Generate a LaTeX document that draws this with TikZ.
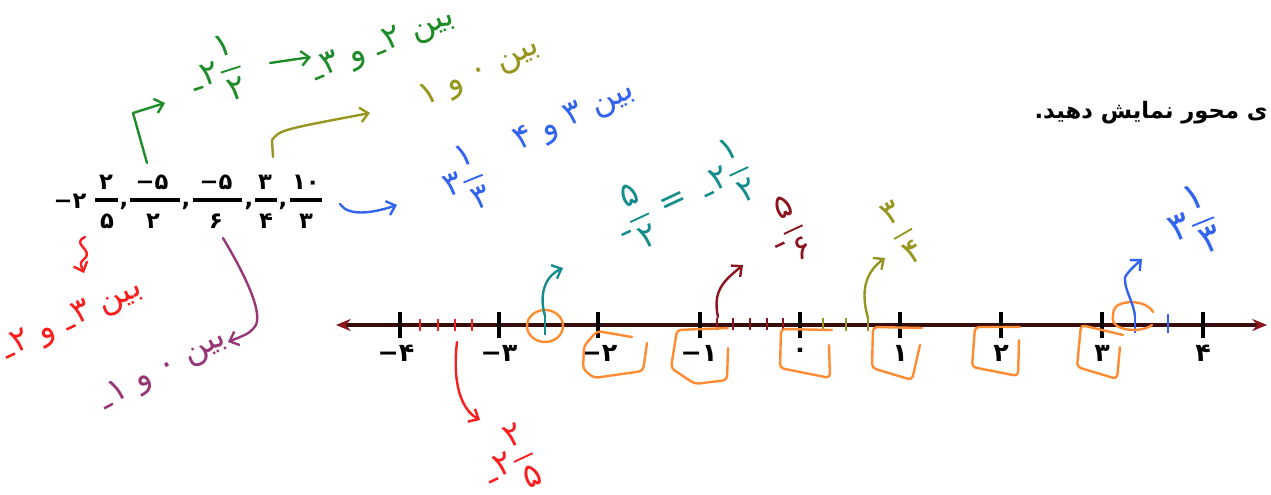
\documentclass[tikz,border=0pt]{standalone}
\usepackage{fontspec}
\usepackage{amsmath}
\usetikzlibrary{arrows.meta}
\TeXXeTstate=1
\newfontfamily\fa[Script=Arabic]{DejaVu Sans}
\definecolor{hgreen}{RGB}{30,140,40}
\definecolor{holive}{RGB}{150,150,30}
\definecolor{hblue}{RGB}{50,100,240}
\definecolor{hteal}{RGB}{20,140,140}
\definecolor{hmaroon}{RGB}{140,20,30}
\definecolor{hred}{RGB}{250,30,30}
\definecolor{hpurple}{RGB}{150,55,120}
\definecolor{horange}{RGB}{255,140,50}
\definecolor{axisc}{RGB}{55,12,12}
\newcommand\hneg{\rule[-0.03em]{0.3em}{0.075em}\kern0.05em}
\newcommand\hnum[1]{\hbox{\beginL\hneg{}#1\endL}}
\newcommand\pneg{−\kern0pt}
\newcommand\hfr[2]{\ensuremath{\genfrac{}{}{1.4pt}{0}{\hbox{\kern1pt#1\kern1pt}}{\hbox{\kern1pt#2\kern1pt}}}}
\begin{document}
\begin{tikzpicture}[x=0.75pt,y=-0.75pt,
  pr/.style={font=\fa\bfseries\fontsize{17}{20}\selectfont, inner sep=0pt},
  plab/.style={font=\fa\bfseries\fontsize{19}{22}\selectfont, inner sep=0pt},
  hw/.style={font=\fa\fontsize{25}{28}\selectfont, inner sep=0pt},
  hwbig/.style={font=\fa\fontsize{29}{32}\selectfont, inner sep=0pt},
  hstroke/.style={line width=1.8pt, line cap=round, line join=round},
  harrow/.style={hstroke, -{Straight Barb[length=6pt,width=11pt]}},
  fbar/.style={line width=2.8pt},
  ntick/.style={line width=2.6pt},
  hmark/.style={line width=1.5pt},
  obox/.style={horange, line width=1.8pt, line cap=round, line join=round, rounded corners=3pt}]
\useasboundingbox (0,0) rectangle (1271,495);

% printed sentence
\node[pr, anchor=east] (title) at (1268,113) {\beginR ی محور نمایش دهید\hbox{.}\endR};

% printed expression
\node[pr] (m0) at (70,201) {\pneg ۲};
\node[pr] (f1n) at (106,182) {۲};
\node[pr] (f1d) at (107,221) {۵};
\draw[fbar] (95,200) -- (118,200);
\node[pr] (c1) at (124,206) {,};
\node[pr] (f2n) at (152,182) {\pneg ۵};
\node[pr] (f2d) at (153,221) {۲};
\draw[fbar] (130,200) -- (180,200);
\node[pr] (c2) at (186,206) {,};
\node[pr] (f3n) at (216,182) {\pneg ۵};
\node[pr] (f3d) at (216,221) {۶};
\draw[fbar] (193,200) -- (242,200);
\node[pr] (c3) at (249,206) {,};
\node[pr] (f4n) at (265,182) {۳};
\node[pr] (f4d) at (266,221) {۴};
\draw[fbar] (255,200) -- (277,200);
\node[pr] (c4) at (283,206) {,};
\node[pr] (f5n) at (306,182) {۱۰};
\node[pr] (f5d) at (306,221) {۳};
\draw[fbar] (290,200) -- (322,200);

% number line
\coordinate (L) at (336,325);
\coordinate (R) at (1267,325);
\draw[line width=3pt, axisc, {Stealth[length=11pt,width=9pt,color=hmaroon]}-{Stealth[length=11pt,width=9pt,color=hmaroon]}] (L) -- (R);
\foreach \x in {400,499,598,700,800,900,1001,1102,1203} \draw[ntick] (\x,312) -- (\x,338);
\node[plab] (n1) at (396,353) {\pneg ۴};
\node[plab] (n2) at (499,353) {\pneg ۳};
\node[plab] (n3) at (599,353) {\pneg ۲};
\node[plab] (n4) at (699,353) {\pneg ۱};
\node[plab] (n5) at (800,353) {۰};
\node[plab] (n6) at (900,353) {۱};
\node[plab] (n7) at (1001,353) {۲};
\node[plab] (n8) at (1102,353) {۳};
\node[plab] (n9) at (1203,353) {۴};

% small hand ticks
\foreach \x in {420,438,455,472} \draw[hmark,hred] (\x,319) -- (\x,331);
\draw[hmark,hteal] (545,316) -- (545,335);
\foreach \x in {717,733,750,767,783} \draw[hmark,hmaroon] (\x,318) -- (\x,330);
\foreach \x in {823,846,868} \draw[hmark,holive] (\x,318) -- (\x,331);
\foreach \x in {1135,1168} \draw[hmark,hblue] (\x,314) -- (\x,333);

% orange marks
\draw[obox] (545,326) ellipse [x radius=18, y radius=16];
\draw[obox] (1153,312) .. controls (1145,298) and (1115,300) .. (1113,315) .. controls (1112,330) and (1140,334) .. (1152,325);
\draw[obox] (632,337) -- (597,331) -- (584,346) -- (583,369) -- (594,378) -- (643,371) -- (647,343);
\draw[obox] (728,348) -- (727,380) -- (695,384) -- (671,368) -- (677,330) -- (728,328);
\draw[obox] (832,330) -- (781,329) -- (780,368) -- (830,378) -- (829,345);
\draw[obox] (922,328) -- (873,327) -- (872,368) -- (912,380) -- (920,345);
\draw[obox] (1020,327) -- (975,327) -- (972,367) -- (1018,376) -- (1019,340);
\draw[obox] (1123,335) -- (1081,325) -- (1077,367) -- (1117,379) -- (1120,347);

% handwritten labels
\node[hw, hgreen, rotate=18] (g1) at (216,72) {\hneg{}۲\hfr{۱}{۲}};
\node[hw, hgreen, rotate=22] (g2) at (383,45) {\beginR بین \hnum{۲} و \hnum{۳}\endR};
\node[hw, holive, rotate=25] (o1) at (480,73) {\beginR بین ۰ و ۱\endR};
\node[hw, hblue, rotate=25] (b1) at (575,117) {\beginR بین ۳ و ۴\endR};
\node[hw, hblue, rotate=22] (b2) at (464,180) {۳\hfr{۱}{۳}};
\node[hw, hred, rotate=25] (r1) at (72,320) {\beginR بین \hnum{۳} و \hnum{۲}\endR};
\node[hw, hpurple, rotate=28] (p1) at (163,370) {\beginR بین ۰ و \hnum{۱}\endR};
\node[hw, hteal, rotate=25] (t1) at (683,195) {\hneg{}\hfr{۵}{۲}\hspace{0.35em}=\hspace{0.5em}\hneg{}۲\hfr{۱}{۲}};
\node[hw, hmaroon, rotate=25] (mr) at (787,230) {\hneg{}\hfr{۵}{۶}};
\node[hw, holive, rotate=30] (o2) at (902,232) {\hfr{۳}{۴}};
\node[hwbig, hblue, rotate=22] (b3) at (1192,222) {۳\hfr{۱}{۳}};
\node[hw, hred, rotate=25] (r2) at (509,462) {\hneg{}۲\hfr{۲}{۵}};

% connectors
\coordinate (gA) at (147,163); \coordinate (gB) at (133,113); \coordinate (gC) at (165,103);
\draw[harrow,hgreen] (gA) -- (gB) -- (gC);
\coordinate (gD) at (270,63); \coordinate (gE) at (311,57);
\draw[harrow,hgreen] (gD) -- (gE);
\coordinate (oA) at (273,157); \coordinate (oB) at (272,140); \coordinate (oC) at (370,113);
\draw[harrow,holive] (oA) -- (oB) .. controls (280,130) .. (oC);
\coordinate (bA) at (340,204); \coordinate (bB) at (397,205);
\draw[harrow,hblue] (bA) .. controls (348,216) and (370,214) .. (bB);
\coordinate (rA) at (85,237); \coordinate (rB) at (84,273);
\draw[harrow,hred] (rA) .. controls (70,244) and (95,250) .. (84,259) .. controls (80,263) .. (rB);
\coordinate (pA) at (223,238); \coordinate (pB) at (228,342);
\draw[harrow,hpurple] (pA) .. controls (245,275) and (262,310) .. (256,325) .. controls (250,333) .. (pB);
\coordinate (rC) at (457,342); \coordinate (rD) at (480,420);
\draw[harrow,hred] (rC) .. controls (452,385) and (462,410) .. (rD);
\coordinate (tA) at (545,316); \coordinate (tB) at (563,268);
\draw[harrow,hteal] (tA) .. controls (538,292) and (547,275) .. (tB);
\coordinate (mA) at (718,317); \coordinate (mB) at (743,265);
\draw[harrow,hmaroon] (mA) .. controls (712,290) and (725,280) .. (mB);
\coordinate (oD) at (868,318); \coordinate (oE) at (885,258);
\draw[harrow,holive] (oD) .. controls (860,290) and (866,272) .. (oE);
\coordinate (bC) at (1135,316); \coordinate (bD) at (1142,259);
\draw[harrow,hblue] (bC) .. controls (1133,300) and (1124,290) .. (1125,277) .. controls (1130,270) .. (bD);
\end{tikzpicture}
\end{document}
